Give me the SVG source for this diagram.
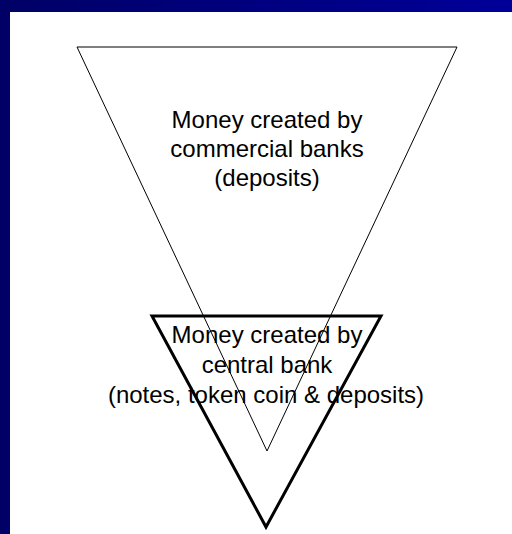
<svg xmlns="http://www.w3.org/2000/svg" width="512" height="534" viewBox="0 0 512 534">
  <defs>
    <linearGradient id="band" x1="0" y1="0" x2="1" y2="0">
      <stop offset="0" stop-color="#000066"/>
      <stop offset="1" stop-color="#000099"/>
    </linearGradient>
  </defs>
  <style>
    .lbl { font-family: "Liberation Sans", Arial, sans-serif; font-size: 24px; fill: #000000; text-anchor: middle; }
    .tri { fill: none; stroke: #000000; stroke-linejoin: miter; }
  </style>
  <rect x="0" y="0" width="512" height="534" fill="#ffffff"/>
  <rect x="0" y="0" width="512" height="12" fill="url(#band)"/>
  <rect x="0" y="0" width="10" height="534" fill="#000066"/>
  <g id="commercial-banks">
    <polygon class="tri" points="77,47 457,47 267,451" stroke-width="1"/>
    <text class="lbl" x="267" y="128">Money created by</text>
    <text class="lbl" x="267" y="157">commercial banks</text>
    <text class="lbl" x="267" y="186">(deposits)</text>
  </g>
  <g id="central-bank">
    <polygon class="tri" points="152,316 381,316 266,527" stroke-width="3"/>
    <text class="lbl" x="267" y="343">Money created by</text>
    <text class="lbl" x="267" y="373">central bank</text>
    <text class="lbl" x="266" y="403">(notes, token coin &amp; deposits)</text>
  </g>
  <g id="connectors"/>
</svg>
